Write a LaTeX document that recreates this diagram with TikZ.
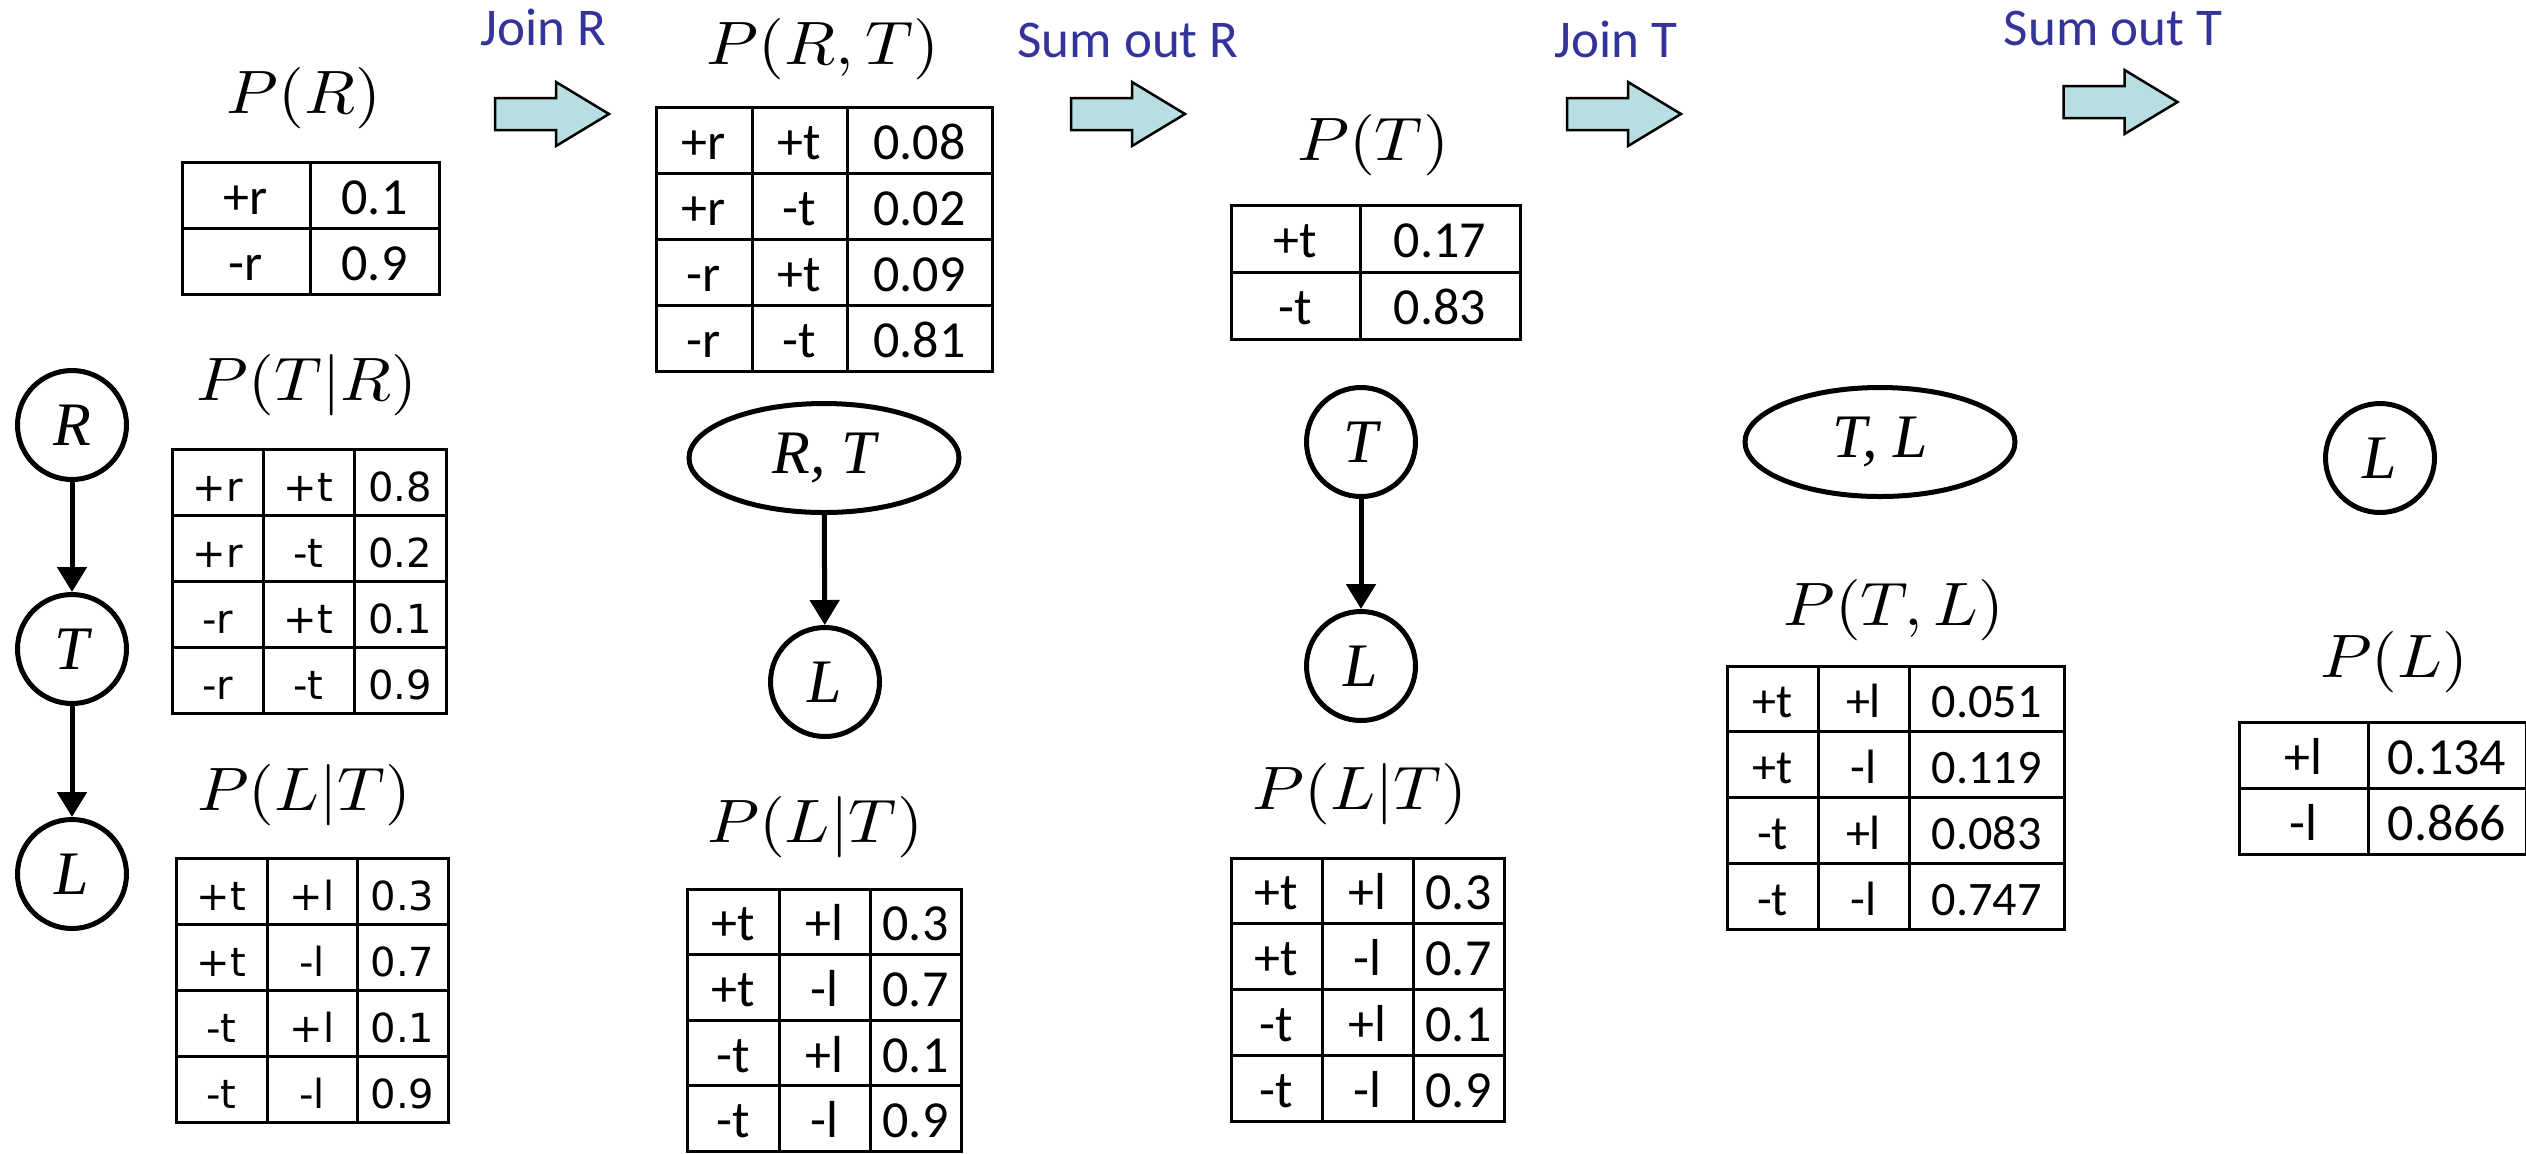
\documentclass[tikz,border=0pt]{standalone}
\usepackage{fontspec}
\usetikzlibrary{arrows.meta,shapes.geometric}
\newfontfamily\calib{Carlito}
\newfontfamily\dejav{DejaVu Sans}
\newfontfamily\timesf{Liberation Serif}
\definecolor{lblue}{RGB}{51,51,153}
\definecolor{afill}{RGB}{183,222,225}
\newcommand\plab[2]{\resizebox{#1}{4.6mm}{$#2$}}
\def\boff{19}
\newcommand\threetab[9]{%
  \draw[tbl] (#1,#5) rectangle (#4,{#5+4*#6});
  \draw[tbl] (#2,#5) -- (#2,{#5+4*#6}) (#3,#5) -- (#3,{#5+4*#6});
  \foreach \k in {1,2,3}{\draw[tbl] (#1,{#5+\k*#6}) -- (#4,{#5+\k*#6});}
  \foreach \a/\b/\c [count=\i] in {#8}{%
    \node[#7] (#9-\i-a) at ({(#1+#2)/2},{#5+(\i-0.5)*#6+\boff}) {\a};
    \node[#7] (#9-\i-b) at ({(#2+#3)/2},{#5+(\i-0.5)*#6+\boff}) {\b};
    \node[#7] (#9-\i-c) at ({(#3+#4)/2},{#5+(\i-0.5)*#6+\boff}) {\c};
  }}
\newcommand\twotab[8]{%
  \draw[tbl] (#1,#4) rectangle (#3,{#4+2*#5});
  \draw[tbl] (#2,#4) -- (#2,{#4+2*#5}) (#1,{#4+#5}) -- (#3,{#4+#5});
  \foreach \a/\b [count=\i] in {#7}{%
    \node[#6] (#8-\i-a) at ({(#1+#2)/2},{#4+(\i-0.5)*#5+\boff}) {\a};
    \node[#6] (#8-\i-b) at ({(#2+#3)/2},{#4+(\i-0.5)*#5+\boff}) {\b};
  }}
\tikzset{
  tbl/.style={line width=0.3mm},
  calcell/.style={font=\calib\fontsize{14.8}{16}\selectfont, anchor=base, inner sep=0},
  smallcal/.style={font=\calib\fontsize{13.7}{16}\selectfont, anchor=base, inner sep=0},
  djcell/.style={font=\dejav\fontsize{11.4}{13}\selectfont, anchor=base, inner sep=0},
  var/.style={circle, draw, line width=0.5mm, minimum size=10.9mm, inner sep=0,
    font=\timesf\itshape\fontsize{17.6}{20}\selectfont},
  jvar/.style={ellipse, draw, line width=0.5mm, minimum width=27mm, minimum height=10.9mm, inner sep=0,
    font=\timesf\itshape\fontsize{17.6}{20}\selectfont},
  edge/.style={line width=0.5mm, -{Triangle[length=2.5mm,width=2.9mm]}},
  plabel/.style={anchor=base, inner sep=0},
  oplabel/.style={font=\calib\fontsize{15.1}{18}\selectfont, text=lblue, anchor=base, inner sep=0},
  blockarrow/.pic={\draw[line width=0.25mm, fill=afill] (-57,-16) -- (4,-16) -- (4,-32) -- (57,0) -- (4,32) -- (4,16) -- (-57,16) -- cycle;},
}
\begin{document}
\begin{tikzpicture}[x=0.1mm,y=-0.1mm]
\useasboundingbox (0,0) rectangle (2526,1153);
\fill[white] (0,0) rectangle (2526,1153);
\clip (0,0) rectangle (2526,1153);

% operation labels and block arrows
\node[oplabel] (j1) at (543,45) {Join R};
\node[oplabel] (s1) at (1128,57) {Sum out R};
\node[oplabel] (j2) at (1616,57) {Join T};
\node[oplabel] (s2) at (2113,45) {Sum out T};
\pic at (552,114) {blockarrow};
\pic at (1128,114) {blockarrow};
\pic at (1624,114) {blockarrow};
\pic at (2120.5,102) {blockarrow};

% column 1
\node[plabel] (lPR) at (304,113) {\plab{15.4mm}{P(R)}};
\twotab{182}{310}{439}{162}{66}{calcell}{+r/0.1, -r/0.9}{pr}
\node[plabel] (lPTR) at (307,400) {\plab{22mm}{P(T|R)}};
\threetab{172}{263}{354}{446}{449}{66.2}{djcell}{+r/+t/0.8, +r/-t/0.2, -r/+t/0.1, -r/-t/0.9}{tr}
\node[plabel] (lPLT1) at (304,810) {\plab{21.4mm}{P(L|T)}};
\threetab{176}{267}{357}{448}{858}{66}{djcell}{+t/+l/0.3, +t/-l/0.7, -t/+l/0.1, -t/-l/0.9}{lta}
\node[var] (R1) at (72,425) {R};
\node[var] (T1) at (72,649) {T};
\node[var] (L1) at (72,874) {L};
\draw[edge] (R1) -- (T1);
\draw[edge] (T1) -- (L1);

% column 2
\node[plabel] (lPRT) at (823,64) {\plab{23.2mm}{P(R,T)}};
\threetab{656}{752}{847}{992}{107}{66.2}{calcell}{+r/+t/0.08, +r/-t/0.02, -r/+t/0.09, -r/-t/0.81}{rt}
\node[jvar] (RT2) at (824,458) {R, T};
\node[var] (L2) at (825,682) {L};
\draw[edge] (RT2) -- (L2);
\node[plabel] (lPLT2) at (815,842) {\plab{21.6mm}{P(L|T)}};
\threetab{687}{779}{870}{961}{889}{65.6}{calcell}{+t/+l/0.3, +t/-l/0.7, -t/+l/0.1, -t/-l/0.9}{ltb}

% column 3
\node[plabel] (lPT) at (1373,160) {\plab{15.2mm}{P(T)}};
\twotab{1231}{1360}{1520}{205}{67}{calcell}{+t/0.17, -t/0.83}{pt}
\node[var] (T3) at (1361,442) {T};
\node[var] (L3) at (1361,666) {L};
\draw[edge] (T3) -- (L3);
\node[plabel] (lPLT3) at (1360,809) {\plab{21.5mm}{P(L|T)}};
\threetab{1231}{1322}{1413}{1504}{858}{65.8}{calcell}{+t/+l/0.3, +t/-l/0.7, -t/+l/0.1, -t/-l/0.9}{ltc}

% column 4
\node[jvar] (TL4) at (1880,442) {T, L};
\node[plabel] (lPTL) at (1894,625) {\plab{22.1mm}{P(T,L)}};
\threetab{1727}{1818}{1909}{2064}{666}{65.8}{smallcal}{+t/+l/0.051, +t/-l/0.119, -t/+l/0.083, -t/-l/0.747}{tl}

% column 5
\node[var] (L5) at (2380,458) {L};
\node[plabel] (lPL) at (2394,677) {\plab{14.8mm}{P(L)}};
\twotab{2239}{2368}{2526}{722}{66}{calcell}{+l/0.134, -l/0.866}{pl}
\end{tikzpicture}
\end{document}
